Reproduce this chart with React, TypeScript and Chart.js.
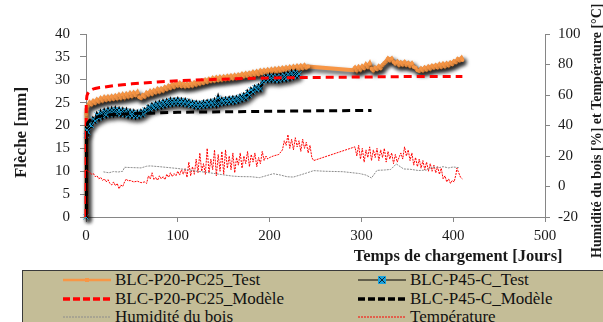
import React, { useEffect, useRef } from "react";
import { Chart, registerables } from "chart.js";
Chart.register(...registerables);

const FONT = "'Liberation Serif', 'Times New Roman', serif";

const X_TITLE = "Temps de chargement [Jours]";
const Y_TITLE = "Flèche [mm]";
const Y1_TITLE = "Humidité du bois [%] et Température [°C]";

const seriesNames = [
  "BLC-P20-PC25_Test",
  "BLC-P45-C_Test",
  "BLC-P20-PC25_Modèle",
  "BLC-P45-C_Modèle",
  "Humidité du bois",
  "Température",
];

// BLC-P20-PC25_Test (mm)
const p20TestDays = [
  0, 0.3, 1,
  2, 4, 6, 8, 10, 12, 14, 16, 18, 20, 22, 24, 26, 28, 30, 32, 34, 36, 38, 40,
  42, 44, 46, 48, 50, 52, 54, 56, 58, 60, 62, 64, 66, 68, 70, 72, 74, 76, 78, 80,
  82, 84, 86, 88, 90, 92, 94, 96, 98, 100, 102, 104, 106, 108, 110, 112, 114, 116, 118, 120,
  122, 124, 126, 128, 130, 132, 134, 136, 138, 140, 142, 144, 146, 148, 150, 152, 154, 156, 158, 160,
  162, 164, 166, 168, 170, 172, 174, 176, 178, 180, 182, 184, 186, 188, 190, 192, 194, 196, 198, 200,
  202, 204, 206, 208, 210, 212, 214, 216, 218, 220, 222, 224, 226, 228, 230, 232, 234, 236, 238, 240,
  242,
  291, 293, 295, 297, 299, 301, 303, 305, 307, 309, 311, 313, 315, 317, 319, 321, 323, 325, 327, 329,
  331, 333, 335, 337, 339, 341, 343, 345, 347, 349, 351, 353, 355, 357, 359, 361, 363, 365, 367, 369,
  371, 373, 375, 377, 379, 381, 383, 385, 387, 389, 391, 393, 395, 397, 399, 401, 403, 405, 407, 409,
  410,
];
const p20TestMm = [
  0, 22.5, 23.6,
  24.3, 25.0, 24.6, 25.3, 24.9, 25.6, 25.2, 25.9, 25.4, 26.1,
  25.6, 26.2, 25.7, 26.3, 25.8, 26.4, 25.9, 26.6, 26.0, 26.7,
  26.1, 26.8, 26.3, 27.0, 26.4, 27.1, 26.6, 27.2, 26.2, 26.0,
  26.6, 26.3, 27.1, 26.7, 27.4, 26.9, 27.6, 27.2, 27.9, 27.4,
  28.0, 27.6, 28.3, 27.9, 28.6, 28.2, 28.9, 28.4, 29.1, 28.7,
  29.2, 28.6, 29.1, 28.5, 29.0, 28.6, 29.2, 28.7, 29.3, 28.9,
  29.5, 29.1, 29.7, 29.3, 29.9, 29.5, 30.1, 29.7, 30.3, 29.8,
  30.4, 29.9, 30.5, 30.0, 30.6, 30.1, 30.7, 30.2, 30.8, 30.3,
  30.9, 30.4, 31.0, 30.6, 31.2, 30.7, 31.3, 30.8, 31.4, 31.0,
  31.6, 31.1, 31.7, 31.2, 31.9, 31.4, 32.0, 31.5, 32.1, 31.6,
  32.2, 31.7, 32.3, 31.8, 32.4, 31.9, 32.5, 32.0, 32.6, 32.1,
  32.7, 32.2, 32.8, 32.3, 32.9, 32.4, 33.0, 32.5, 33.1, 32.6,
  32.9,
  32.1, 32.6, 32.0, 32.7, 32.2, 32.9, 32.5, 33.3, 32.8, 33.5,
  32.4, 32.0, 32.6, 32.3, 32.9, 32.5, 33.2, 33.6, 34.0, 34.6,
  34.2, 34.6, 33.9, 33.5, 33.9, 33.2, 33.7, 33.3, 33.8, 33.2,
  33.6, 33.0, 33.5, 32.8, 32.6, 32.1, 31.9, 32.4, 32.0, 32.6,
  32.2, 32.8, 32.4, 33.0, 32.6, 33.1, 32.7, 33.3, 32.8, 33.4,
  32.9, 33.5, 33.1, 33.7, 33.4, 34.0, 33.8, 34.5, 34.2, 34.7,
  34.3,
];

// BLC-P45-C_Test (mm)
const p45TestDays = [
  0, 0.3, 1,
  2, 4, 6, 8, 10, 12, 14, 16, 18, 20, 22, 24, 26, 28, 30, 32, 34, 36, 38, 40,
  42, 44, 46, 48, 50, 52, 54, 56, 58, 60, 62, 64, 66, 68, 70, 72, 74, 76, 78, 80,
  82, 84, 86, 88, 90, 92, 94, 96, 98, 100, 102, 104, 106, 108, 110, 112, 114, 116, 118, 120,
  122, 124, 126, 128, 130, 132, 134, 136, 138, 140, 142, 144, 146, 148, 150, 152, 154, 156, 158, 160,
  162, 164, 166, 168, 170, 172, 174, 176, 178, 180, 182, 184, 186, 188, 190, 192, 194, 196, 198, 200,
  202, 204, 206, 208, 210, 212, 214, 216, 218, 220, 222, 224, 226, 228, 230, 232,
];
const p45TestMm = [
  0, 17.8, 19.0,
  18.6, 20.2, 20.0, 21.4, 21.0, 22.3, 21.6, 22.8, 22.0, 23.1,
  22.3, 23.3, 22.4, 23.4, 22.5, 23.5, 22.6, 23.4, 22.5, 23.3,
  22.4, 23.2, 22.2, 23.0, 22.1, 22.9, 22.0, 22.8, 22.1, 23.0,
  22.4, 23.4, 23.0, 24.0, 23.5, 24.4, 23.8, 24.7, 24.0, 24.9,
  24.2, 25.1, 24.4, 25.3, 24.6, 25.5, 24.7, 25.5, 24.8, 25.6,
  24.8, 25.5, 24.7, 25.4, 24.6, 25.2, 24.4, 25.0, 24.2, 24.9,
  24.1, 24.8, 24.2, 25.0, 24.3, 25.1, 24.4, 25.2, 24.5, 25.4,
  24.6, 26.0, 24.8, 25.6, 24.9, 25.7, 25.0, 25.8, 25.1, 25.9,
  25.2, 26.0, 25.4, 26.3, 25.7, 26.6, 26.0, 27.2, 26.6, 27.8,
  27.3, 28.3, 27.8, 28.6, 28.0, 29.4, 29.8, 30.6, 29.9, 30.8,
  30.0, 30.8, 29.9, 30.7, 29.9, 30.8, 30.1, 31.0, 30.2, 31.2,
  30.4, 31.5, 30.7, 31.6, 30.8, 31.3,
];

// Models (mm)
const p20ModelDays = [0, 0.3, 1, 2, 4, 7, 10, 15, 20, 30, 40, 50, 70, 100, 130, 160, 200, 250, 300, 350, 410];
const p20ModelMm = [0, 25, 26.5, 27.0, 27.6, 27.9, 28.1, 28.3, 28.4, 28.7, 28.9, 29.1, 29.4, 29.8, 30.0, 30.2, 30.4, 30.5, 30.6, 30.7, 30.7];
const p45ModelDays = [0, 0.3, 1, 2, 4, 7, 10, 15, 20, 30, 50, 70, 100, 150, 200, 250, 311];
const p45ModelMm = [0, 19, 20, 20.6, 21.1, 21.5, 21.8, 22.0, 22.2, 22.4, 22.6, 22.7, 22.9, 23.0, 23.1, 23.2, 23.3];

// Humidité du bois (%)
const humDays = [19, 25, 30, 35, 40, 42, 50, 60, 66, 70, 80, 90, 100, 113, 120, 130, 139, 150, 160, 168, 180, 189, 197, 204, 212, 219, 226, 233, 240, 248, 260, 280, 298, 305, 311, 317, 325, 332, 338, 346, 353, 362, 371, 378, 385, 389, 395, 400, 407];
const humPct = [9.6, 9.0, 9.8, 9.5, 10.0, 12.6, 12.4, 12.2, 13.3, 13.5, 13.0, 12.4, 11.8, 10.8, 10.0, 9.4, 8.6, 7.6, 6.8, 6.5, 6.4, 5.8, 7.2, 8.4, 7.5, 6.4, 6.2, 7.5, 8.8, 10.4, 10.0, 9.7, 8.5, 7.5, 5.6, 10.6, 10.8, 11.2, 14.8, 11.5, 11.3, 10.5, 10.8, 12.8, 12.4, 13.0, 12.2, 12.8, 12.3];

// Température (°C)
const tempDays = [
  0, 2, 4, 6, 8, 10, 12, 14, 16, 18, 20, 22, 24, 26, 28, 30, 32, 34, 36, 38, 40,
  42, 44, 46, 48, 52, 56, 60, 64, 66, 68, 70, 72, 74, 76, 78, 80, 82, 84, 86, 88,
  90, 92, 94, 96, 98, 100, 102, 104, 106, 108, 110, 112, 114, 116, 118, 120,
  122, 124, 126, 128, 130, 132, 134, 136, 138, 140, 142, 144, 146, 148, 150,
  152, 154, 156, 158, 160, 162, 164, 166, 168, 170, 172, 174, 176, 178, 180,
  182, 184, 186, 188, 190, 192, 194, 196, 198, 200, 204, 210, 214, 216, 218, 220,
  222, 224, 226, 228, 230, 232, 234, 236, 238, 240, 242, 244, 246, 248,
  293, 295, 297, 299, 301, 303, 305, 307, 309, 311, 313, 315, 317, 319, 321, 323,
  325, 327, 329, 331, 333, 335, 337, 339, 341, 343, 345, 347, 349, 351, 353, 355,
  357, 359, 361, 363, 365, 367, 369, 371, 373, 375, 377, 379, 381, 383, 385, 387,
  389, 391, 393, 395, 397, 399, 401, 403, 404, 406, 408, 410,
];
const tempC = [
  11, 10, 9.5, 8, 8.5, 6.5, 7, 5, 6, 4, 5, 3, 4.5, 2, 1, 3, 0.5, 2, -1.5, 1, 0,
  3, 5, 3.5, 4, 3, 3.5, 2.5, 3, 2, 7, 5, 9, 4.5, 6, 4, 7, 5, 6.5, 4.5, 8,
  6, 9, 6.5, 8.5, 7, 10, 7.5, 11, 8, 12, 6, 16, 7, 13, 8, 18,
  9, 22, 10, 15, 8, 25, 9, 18, 11, 24, 7, 21, 10, 23, 8,
  24, 12, 20, 11, 22, 9, 19, 14, 22, 12, 20, 15, 23, 13, 21,
  16, 22, 13, 19, 15, 23, 17, 20, 18, 19, 20, 21, 24, 30, 27, 34,
  25, 31, 24, 32, 26, 30, 23, 31, 25, 29, 22, 27, 19, 17,
  26, 20, 27, 18, 25, 16, 24, 19, 26, 17, 24, 19, 25, 17, 24, 19,
  25, 16, 23, 18, 22, 15, 21, 16, 19, 22, 18, 26, 20, 24, 17, 22,
  14, 19, 13, 18, 12, 17, 11, 16, 10, 15, 10, 14, 9, 13, 8, 12,
  5, 7, 3, 5, 2, 4, 3, 8, 12, 9, 6, 5,
];

const COLORS = {
  p20Test: "#f79646",
  p45Line: "#000000",
  p45Marker: "#1aa3dd",
  p20Model: "#ff0000",
  p45Model: "#000000",
  hum: "#8c8c8c",
  temp: "#ff0000",
  axis: "#868686",
  text: "#1a1a1a",
  legendBg: "#c4bd97",
};

const pts = (xs: number[], ys: number[]) => xs.map((x, i) => ({ x, y: ys[i] }));

const shadowPlugin = {
  id: "seriesShadow",
  beforeDatasetDraw(chart: any, args: any) {
    const ds = chart.data.datasets[args.index];
    if (ds && ds.shadow) {
      const ctx = chart.ctx;
      ctx.save();
      ctx.shadowColor = "rgba(0,0,0,0.75)";
      ctx.shadowBlur = 4;
      ctx.shadowOffsetX = 2;
      ctx.shadowOffsetY = 3;
    }
  },
  afterDatasetDraw(chart: any, args: any) {
    const ds = chart.data.datasets[args.index];
    if (ds && ds.shadow) chart.ctx.restore();
  },
};

const titlesPlugin = {
  id: "axisTitles",
  afterDraw(chart: any) {
    const ctx = chart.ctx;
    const area = chart.chartArea;
    const xs = chart.scales.x;
    ctx.save();
    ctx.fillStyle = COLORS.text;
    ctx.save();
    ctx.font = `bold 17px ${FONT}`;
    ctx.translate(22, (area.top + area.bottom) / 2 + 7);
    ctx.rotate(-Math.PI / 2);
    ctx.textAlign = "center";
    ctx.textBaseline = "middle";
    ctx.fillText(Y_TITLE, 0, 0);
    ctx.restore();
    ctx.save();
    ctx.font = `bold 16.5px ${FONT}`;
    ctx.textAlign = "center";
    ctx.textBaseline = "middle";
    ctx.fillText(X_TITLE, xs.getPixelForValue(400) + 5, area.bottom + 40);
    ctx.restore();
    ctx.save();
    ctx.font = `bold 14px ${FONT}`;
    ctx.translate(chart.width - 6, area.bottom + 41);
    ctx.rotate(-Math.PI / 2);
    ctx.textAlign = "left";
    ctx.textBaseline = "middle";
    ctx.fillText(Y1_TITLE, 0, 0);
    ctx.restore();
    ctx.restore();
  },
};

function Sample({ kind }: { kind: number }) {
  const w = 48;
  const h = 14;
  const m = h / 2;
  let body: any = null;
  if (kind === 0) {
    body = (
      <>
        <line x1={0} y1={m} x2={w} y2={m} stroke={COLORS.p20Test} strokeWidth={2.5} />
        <rect x={w / 2 - 2} y={m - 2} width={4} height={4} fill={COLORS.p20Test} />
      </>
    );
  } else if (kind === 1) {
    body = (
      <>
        <line x1={0} y1={m} x2={w} y2={m} stroke="#000" strokeWidth={1.2} />
        <rect x={w / 2 - 4} y={m - 4} width={8} height={8} fill={COLORS.p45Marker} />
        <line x1={w / 2 - 3} y1={m - 3} x2={w / 2 + 3} y2={m + 3} stroke="#123" strokeWidth={1} />
        <line x1={w / 2 + 3} y1={m - 3} x2={w / 2 - 3} y2={m + 3} stroke="#123" strokeWidth={1} />
      </>
    );
  } else if (kind === 2) {
    body = <line x1={0} y1={m} x2={w} y2={m} stroke={COLORS.p20Model} strokeWidth={3.5} strokeDasharray="7 3" />;
  } else if (kind === 3) {
    body = <line x1={0} y1={m} x2={w} y2={m} stroke="#000" strokeWidth={3.5} strokeDasharray="7 3" />;
  } else if (kind === 4) {
    body = <line x1={0} y1={m} x2={w} y2={m} stroke={COLORS.hum} strokeWidth={1} strokeDasharray="2 1" />;
  } else {
    body = <line x1={0} y1={m} x2={w} y2={m} stroke={COLORS.temp} strokeWidth={1} strokeDasharray="2 1" />;
  }
  return (
    <svg width={w} height={h} style={{ display: "block" }}>
      {body}
    </svg>
  );
}

function Legend() {
  const rows = [
    [0, 1],
    [2, 3],
    [4, 5],
  ];
  const rowY = [9, 27.5, 46];
  const cols = [
    { s: 40, t: 92 },
    { s: 335, t: 387 },
  ];
  return (
    <div
      style={{
        position: "absolute",
        left: 22,
        top: 270,
        width: 640,
        height: 70,
        background: COLORS.legendBg,
        border: "1px solid #3a3a3a",
        fontFamily: FONT,
        fontSize: 17,
        color: "#111",
      }}
    >
      {rows.map((r, ri) =>
        r.map((k, ci) => (
          <React.Fragment key={`${ri}-${ci}`}>
            <div style={{ position: "absolute", left: cols[ci].s, top: rowY[ri] - 7 }}>
              <Sample kind={k} />
            </div>
            <div
              style={{
                position: "absolute",
                left: cols[ci].t,
                top: rowY[ri] - 10,
                height: 20,
                lineHeight: "20px",
                whiteSpace: "nowrap",
              }}
            >
              {seriesNames[k]}
            </div>
          </React.Fragment>
        ))
      )}
    </div>
  );
}

export default function App() {
  const ref = useRef<HTMLCanvasElement>(null);
  useEffect(() => {
    const axisGrid = {
      display: true,
      drawOnChartArea: false,
      drawTicks: true,
      tickLength: 5,
      color: COLORS.axis,
    };
    const tickFont = { family: FONT, size: 15 };
    const chart = new Chart(ref.current as HTMLCanvasElement, {
      type: "line",
      data: {
        datasets: [
          {
            label: seriesNames[0],
            data: pts(p20TestDays, p20TestMm),
            borderColor: COLORS.p20Test,
            backgroundColor: COLORS.p20Test,
            borderWidth: 4,
            pointRadius: 2,
            pointBorderWidth: 0,
            pointBackgroundColor: COLORS.p20Test,
            yAxisID: "y",
            order: 4,
            clip: false,
            shadow: true,
          } as any,
          {
            label: seriesNames[1],
            data: pts(p45TestDays, p45TestMm),
            borderColor: COLORS.p45Line,
            backgroundColor: COLORS.p45Marker,
            borderWidth: 3.5,
            pointStyle: "crossRot",
            pointRadius: 3.5,
            pointBorderWidth: 1,
            pointBorderColor: COLORS.p45Marker,
            yAxisID: "y",
            order: 3,
            clip: false,
            shadow: true,
          } as any,
          {
            label: seriesNames[2],
            data: pts(p20ModelDays, p20ModelMm),
            borderColor: COLORS.p20Model,
            borderWidth: 3,
            borderDash: [8, 5],
            pointRadius: 0,
            yAxisID: "y",
            order: 2,
            clip: false,
          },
          {
            label: seriesNames[3],
            data: pts(p45ModelDays, p45ModelMm),
            borderColor: COLORS.p45Model,
            borderWidth: 3,
            borderDash: [8, 5],
            pointRadius: 0,
            yAxisID: "y",
            order: 1,
          },
          {
            label: seriesNames[4],
            data: pts(humDays, humPct),
            borderColor: COLORS.hum,
            borderWidth: 1,
            borderDash: [2, 1],
            pointRadius: 0,
            yAxisID: "y1",
            order: 0,
          },
          {
            label: seriesNames[5],
            data: pts(tempDays, tempC),
            borderColor: COLORS.temp,
            borderWidth: 1,
            borderDash: [2, 1],
            pointRadius: 0,
            yAxisID: "y1",
            order: 0,
          },
        ],
      },
      options: {
        responsive: false,
        animation: false,
        events: [],
        layout: { padding: { top: 34, left: 0, right: 0, bottom: 0 } },
        plugins: { legend: { display: false }, tooltip: { enabled: false } },
        scales: {
          x: {
            type: "linear",
            min: 0,
            max: 500,
            ticks: { stepSize: 100, font: tickFont, color: COLORS.text, padding: 5, maxRotation: 0 },
            grid: axisGrid,
            border: { display: true, color: COLORS.axis },
            afterFit: (s: any) => {
              s.height = 53;
            },
          },
          y: {
            type: "linear",
            position: "left",
            min: 0,
            max: 40,
            ticks: { stepSize: 5, font: tickFont, color: COLORS.text, padding: 10 },
            grid: { ...axisGrid, tickLength: 6 },
            border: { display: true, color: COLORS.axis },
            afterFit: (s: any) => {
              s.width = 86;
            },
          },
          y1: {
            type: "linear",
            position: "right",
            min: -20,
            max: 100,
            ticks: { stepSize: 20, font: tickFont, color: COLORS.text, padding: 8 },
            grid: axisGrid,
            border: { display: true, color: COLORS.axis },
            afterFit: (s: any) => {
              s.width = 58;
            },
          },
        },
      } as any,
      plugins: [shadowPlugin, titlesPlugin],
    });
    return () => chart.destroy();
  }, []);

  return (
    <div
      style={{
        position: "fixed",
        left: 0,
        top: 0,
        width: 603,
        height: 322,
        overflow: "hidden",
        background: "#fff",
      }}
    >
      <canvas ref={ref} width={603} height={270} style={{ position: "absolute", left: 0, top: 0 }} />
      <Legend />
    </div>
  );
}
